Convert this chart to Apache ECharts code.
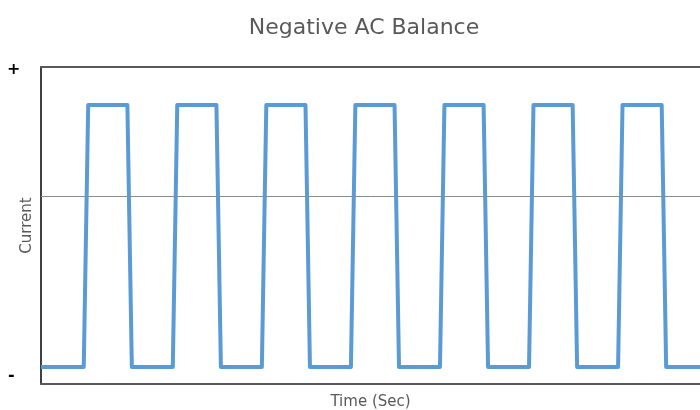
<!DOCTYPE html>
<html>
<head>
<meta charset="utf-8">
<script src="https://cdn.jsdelivr.net/npm/echarts@6/dist/echarts.min.js"></script>
<style>html,body{margin:0;padding:0;background:#fff}#c{width:700px;height:410px}</style>
</head>
<body>
<div id="c"></div>
<script>
// Time points (arbitrary units) and current levels
var times = [0, 4.8, 5.3, 9.7, 10.2, 14.8, 15.3, 19.7, 20.2, 24.8, 25.3, 29.7, 30.2, 34.8, 35.3, 39.7, 40.2, 44.8, 45.3, 49.7, 50.2, 54.8, 55.3, 59.7, 60.2, 64.8, 65.3, 69.7, 70.2, 74];
var current = [5.4, 5.4, 88, 88, 5.4, 5.4, 88, 88, 5.4, 5.4, 88, 88, 5.4, 5.4, 88, 88, 5.4, 5.4, 88, 88, 5.4, 5.4, 88, 88, 5.4, 5.4, 88, 88, 5.4, 5.4];
var referenceLevel = [59.3];
var yTickLabels = ['+', '-'];

var pts = times.map(function (t, i) { return [t, current[i]]; });
var chart = echarts.init(document.getElementById('c'), null, {renderer: 'canvas'});
var font = '"DejaVu Sans", "Open Sans", sans-serif';
chart.setOption({
  animation: false,
  backgroundColor: '#fff',
  title: {
    text: 'Negative AC Balance',
    left: 359, top: 12, textAlign: 'center',
    textStyle: {fontFamily: font, fontSize: 22, fontWeight: 'normal', color: '#595959'}
  },
  grid: {left: 41, right: 0, top: 67, bottom: 26, containLabel: false, outerBoundsMode: 'none'},
  xAxis: [{
    type: 'value', min: 0, max: 74,
    name: 'Time (Sec)', nameLocation: 'middle', nameGap: 11,
    nameTextStyle: {fontFamily: font, fontSize: 15, color: '#595959'},
    axisLine: {show: true, lineStyle: {color: '#595959', width: 2}},
    axisTick: {show: false}, axisLabel: {show: false}, splitLine: {show: false}
  }, {
    type: 'value', min: 0, max: 74, position: 'top',
    axisLine: {show: true, lineStyle: {color: '#595959', width: 2}},
    axisTick: {show: false}, axisLabel: {show: false}, splitLine: {show: false}
  }],
  yAxis: {
    type: 'value', min: 0, max: 100,
    name: 'Current', nameLocation: 'middle', nameGap: 6, nameRotate: 90,
    nameTextStyle: {fontFamily: font, fontSize: 15, color: '#595959'},
    axisLine: {show: true, lineStyle: {color: '#000', width: 1.5}},
    axisTick: {show: false}, axisLabel: {show: false}, splitLine: {show: false}
  },
  graphic: [
    {type: 'text', left: 7, top: 62, style: {text: yTickLabels[0], font: 'bold 16px ' + font, fill: '#000'}},
    {type: 'text', left: 8, top: 368, style: {text: yTickLabels[1], font: 'bold 16px ' + font, fill: '#000'}}
  ],
  series: [{
    type: 'line', data: pts, showSymbol: false, symbol: 'none',
    lineStyle: {color: '#5B9BD5', width: 4, join: 'round'},
    markLine: {
      silent: true, symbol: 'none', label: {show: false},
      lineStyle: {color: '#8c8c8c', width: 1, type: 'solid'},
      data: [{yAxis: referenceLevel[0]}]
    }
  }]
});
</script>
</body>
</html>
